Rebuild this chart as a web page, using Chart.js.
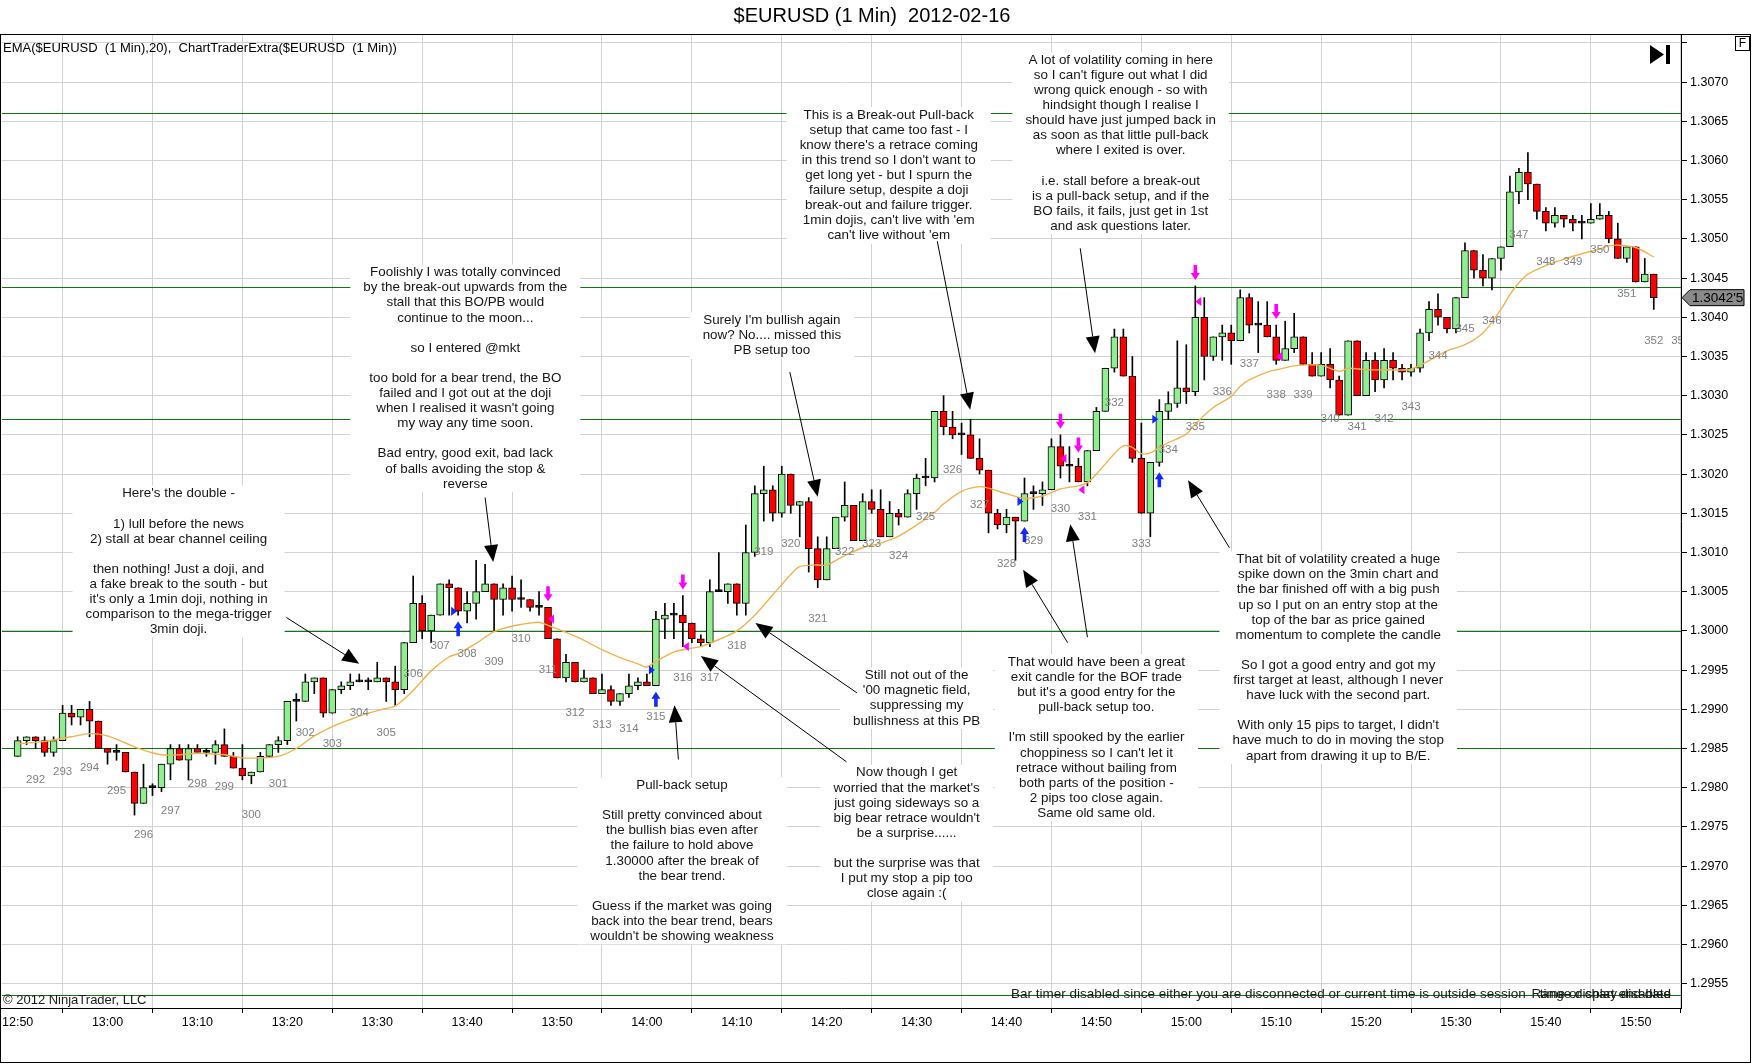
<!DOCTYPE html>
<html>
<head>
<meta charset="utf-8">
<title>$EURUSD (1 Min) 2012-02-16</title>
<script src="https://cdn.jsdelivr.net/npm/chart.js"></script>
<style>
  html, body { margin: 0; padding: 0; background: #fff; }
  #wrap { width: 1752px; height: 1064px; }
</style>
</head>
<body>
<div id="wrap"><canvas id="priceChart" width="1752" height="1064"></canvas></div>
<script>
// $EURUSD 1 min bars, bar 0 = 12:50, one bar per minute

var opens = [
  1.2984, 1.2986, 1.29865, 1.2986, 1.29845, 1.2986, 1.29895, 1.2989, 1.2990, 1.29885,
  1.2985, 1.29845, 1.29845, 1.2982, 1.2978, 1.2980, 1.2980, 1.2983, 1.2985, 1.29835,
  1.2985, 1.29845, 1.29845, 1.29855, 1.2984, 1.29825, 1.29815, 1.2982, 1.2984, 1.29855,
  1.2986, 1.2991, 1.2991, 1.29935, 1.2994, 1.29895, 1.29925, 1.2993, 1.29935, 1.29935,
  1.29935, 1.2994, 1.29935, 1.29925, 1.29985, 1.30035, 1.3000, 1.3002, 1.3006, 1.30055,
  1.30025, 1.30035, 1.3005, 1.3006, 1.3004, 1.30055, 1.3004, 1.3004, 1.3003, 1.3003,
  1.2999, 1.2994, 1.2996, 1.29935, 1.2994, 1.2992, 1.29925, 1.2991, 1.2992, 1.2993,
  1.29935, 1.2993, 1.30015, 1.3002, 1.3002, 1.3001, 1.2999, 1.29985, 1.3005, 1.3005,
  1.3006, 1.30035, 1.3010, 1.30175, 1.3018, 1.3015, 1.3020, 1.3016, 1.30165, 1.30105,
  1.30065, 1.30105, 1.30145, 1.3016, 1.30115, 1.30165, 1.30155, 1.3012, 1.3015, 1.30145,
  1.30175, 1.30195, 1.30195, 1.3028, 1.3026, 1.3025, 1.3025, 1.3022, 1.30205, 1.3015,
  1.30135, 1.30145, 1.3014, 1.30175, 1.30175, 1.3018, 1.30235, 1.3021, 1.3021, 1.3019,
  1.3023, 1.3028, 1.30335, 1.30375, 1.30325, 1.3022, 1.3015, 1.30215, 1.3028, 1.3029,
  1.3031, 1.30305, 1.3040, 1.3035, 1.30375, 1.3038, 1.3037, 1.30425, 1.3039, 1.3039,
  1.30375, 1.30345, 1.3036, 1.30375, 1.3034, 1.30325, 1.3034, 1.3032, 1.30275, 1.3037,
  1.3030, 1.30345, 1.3032, 1.30345, 1.30335, 1.3033, 1.30335, 1.3038, 1.3041, 1.3040,
  1.30385, 1.30425, 1.30485, 1.3046, 1.3045, 1.30475, 1.3049, 1.3056, 1.30585, 1.3057,
  1.30535, 1.3052, 1.3053, 1.30525, 1.3052, 1.3052, 1.30525, 1.3053, 1.3050, 1.30475,
  1.3049, 1.30445, 1.30455
];
var highs = [
  1.29865, 1.29865, 1.29865, 1.29865, 1.29865, 1.29905, 1.29905, 1.2990, 1.2991, 1.29885,
  1.2985, 1.29855, 1.29845, 1.2982, 1.2983, 1.29805, 1.2983, 1.29855, 1.29855, 1.29855,
  1.29855, 1.2985, 1.2986, 1.29875, 1.29845, 1.29855, 1.2982, 1.29845, 1.29855, 1.29865,
  1.2991, 1.2992, 1.29945, 1.2994, 1.2994, 1.29925, 1.29935, 1.29945, 1.29945, 1.2994,
  1.2996, 1.2994, 1.29955, 1.29985, 1.3007, 1.30045, 1.3002, 1.3006, 1.30065, 1.30055,
  1.3005, 1.3009, 1.30085, 1.3006, 1.3006, 1.3007, 1.30065, 1.3004, 1.3005, 1.3003,
  1.2999, 1.2997, 1.2996, 1.2995, 1.2994, 1.29945, 1.2993, 1.2992, 1.29945, 1.2994,
  1.29945, 1.30025, 1.30035, 1.30035, 1.30045, 1.3001, 1.29995, 1.30065, 1.3010, 1.3006,
  1.3006, 1.30135, 1.30185, 1.3021, 1.30185, 1.3021, 1.3020, 1.30165, 1.3017, 1.3012,
  1.3012, 1.30145, 1.3019, 1.3016, 1.30175, 1.3018, 1.3018, 1.30165, 1.30155, 1.3018,
  1.3020, 1.3022, 1.3028, 1.3030, 1.3028, 1.30265, 1.3027, 1.30245, 1.30205, 1.30155,
  1.30155, 1.30145, 1.30195, 1.30185, 1.3019, 1.30245, 1.3025, 1.30235, 1.3022, 1.3023,
  1.30285, 1.30335, 1.30385, 1.30385, 1.3035, 1.30265, 1.30215, 1.30295, 1.30305, 1.3037,
  1.30365, 1.3044, 1.30425, 1.30375, 1.3039, 1.3039, 1.30435, 1.3043, 1.3042, 1.3042,
  1.3039, 1.30395, 1.30405, 1.30375, 1.30355, 1.30355, 1.3036, 1.30325, 1.3037, 1.3037,
  1.30355, 1.30355, 1.3036, 1.30355, 1.3034, 1.3034, 1.30385, 1.3042, 1.3043, 1.3040,
  1.30425, 1.30495, 1.30485, 1.3048, 1.30475, 1.3049, 1.3058, 1.3059, 1.3061, 1.3057,
  1.3054, 1.3054, 1.3053, 1.3053, 1.3053, 1.30545, 1.30545, 1.30535, 1.3052, 1.3049,
  1.3049, 1.30475, 1.30455
];
var lows = [
  1.2984, 1.29855, 1.2985, 1.2984, 1.2984, 1.2986, 1.2988, 1.2988, 1.29865, 1.2985,
  1.2983, 1.29835, 1.2982, 1.29765, 1.2978, 1.2979, 1.29795, 1.2981, 1.29835, 1.2981,
  1.29845, 1.2984, 1.2983, 1.2984, 1.29825, 1.2981, 1.29805, 1.2982, 1.2984, 1.29845,
  1.29855, 1.29885, 1.2991, 1.2992, 1.2989, 1.29895, 1.2992, 1.29925, 1.29935, 1.29925,
  1.29935, 1.2991, 1.29905, 1.2992, 1.29985, 1.2999, 1.29985, 1.3002, 1.3002, 1.3002,
  1.3001, 1.30015, 1.3005, 1.3000, 1.3002, 1.30025, 1.3003, 1.30025, 1.3002, 1.2999,
  1.2994, 1.29935, 1.29935, 1.29935, 1.2992, 1.2992, 1.29905, 1.29905, 1.29915, 1.29925,
  1.2993, 1.2993, 1.2999, 1.2999, 1.2998, 1.29985, 1.2998, 1.2998, 1.3005, 1.30035,
  1.3002, 1.3002, 1.30095, 1.3014, 1.3014, 1.30145, 1.3015, 1.3012, 1.30075, 1.30055,
  1.30065, 1.30105, 1.3014, 1.30115, 1.30115, 1.3015, 1.3012, 1.3012, 1.30135, 1.30145,
  1.30155, 1.30185, 1.3019, 1.3025, 1.30245, 1.30225, 1.3022, 1.3020, 1.30125, 1.3013,
  1.30125, 1.3009, 1.3014, 1.30155, 1.3016, 1.3018, 1.30195, 1.3019, 1.3019, 1.30185,
  1.3023, 1.3028, 1.3033, 1.30325, 1.30215, 1.3015, 1.3012, 1.3021, 1.3027, 1.30285,
  1.3029, 1.3030, 1.3032, 1.30345, 1.30345, 1.3034, 1.3037, 1.3038, 1.30355, 1.30375,
  1.3034, 1.30345, 1.30355, 1.3034, 1.30325, 1.30325, 1.3031, 1.30275, 1.30275, 1.3030,
  1.3030, 1.30305, 1.3031, 1.3032, 1.3032, 1.30325, 1.3033, 1.3037, 1.3039, 1.3038,
  1.3038, 1.30425, 1.3045, 1.3044, 1.30435, 1.3046, 1.3049, 1.30545, 1.3055, 1.30525,
  1.3051, 1.30515, 1.30515, 1.3051, 1.3050, 1.3052, 1.30525, 1.30495, 1.30475, 1.3047,
  1.30445, 1.30445, 1.3041
];
var closes = [
  1.2986, 1.29865, 1.2986, 1.29845, 1.2986, 1.29895, 1.2989, 1.2990, 1.29885, 1.2985,
  1.29845, 1.29845, 1.2982, 1.2978, 1.2980, 1.2980, 1.2983, 1.2985, 1.29835, 1.2985,
  1.29845, 1.29845, 1.29855, 1.2984, 1.29825, 1.29815, 1.2982, 1.2984, 1.29855, 1.2986,
  1.2991, 1.2991, 1.29935, 1.2994, 1.29895, 1.29925, 1.2993, 1.29935, 1.29935, 1.29935,
  1.2994, 1.29935, 1.29925, 1.29985, 1.30035, 1.3000, 1.3002, 1.3006, 1.30055, 1.30025,
  1.30035, 1.3005, 1.3006, 1.3004, 1.30055, 1.3004, 1.3004, 1.3003, 1.3003, 1.2999,
  1.2994, 1.2996, 1.29935, 1.2994, 1.2992, 1.29925, 1.2991, 1.2992, 1.2993, 1.29935,
  1.2993, 1.30015, 1.3002, 1.3002, 1.3001, 1.2999, 1.29985, 1.3005, 1.3005, 1.3006,
  1.30035, 1.3010, 1.30175, 1.3018, 1.3015, 1.3020, 1.3016, 1.30165, 1.30105, 1.30065,
  1.30105, 1.30145, 1.3016, 1.30115, 1.30165, 1.30155, 1.3012, 1.3015, 1.30145, 1.30175,
  1.30195, 1.30195, 1.3028, 1.3026, 1.3025, 1.3025, 1.3022, 1.30205, 1.3015, 1.30135,
  1.30145, 1.3014, 1.30175, 1.30175, 1.3018, 1.30235, 1.3021, 1.3021, 1.3019, 1.3023,
  1.3028, 1.30335, 1.30375, 1.30325, 1.3022, 1.3015, 1.30215, 1.3028, 1.3029, 1.3031,
  1.30305, 1.3040, 1.3035, 1.30375, 1.3038, 1.3037, 1.30425, 1.3039, 1.3039, 1.30375,
  1.30345, 1.3036, 1.30375, 1.3034, 1.30325, 1.3034, 1.3032, 1.30275, 1.3037, 1.3030,
  1.30345, 1.3032, 1.30345, 1.30335, 1.3033, 1.30335, 1.3038, 1.3041, 1.3040, 1.30385,
  1.30425, 1.30485, 1.3046, 1.3045, 1.30475, 1.3049, 1.3056, 1.30585, 1.3057, 1.30535,
  1.3052, 1.3053, 1.30525, 1.3052, 1.3052, 1.30525, 1.3053, 1.3050, 1.30475, 1.3049,
  1.30445, 1.30455, 1.30425
];

// EMA(20) (minute index, value)
var emaMinutes = [0, 3, 6, 8, 10, 12, 14, 16, 18, 20, 23, 25, 27, 29, 31, 33, 35, 37, 39, 41,
  42, 44, 46, 48, 49, 51, 53, 55, 57, 58, 59, 61, 63, 65, 67, 69, 70, 71, 73, 75,
  76, 78, 80, 82, 84, 86, 87, 89, 90, 92, 94, 96, 98, 100, 102, 103, 105, 107, 108, 110,
  112, 114, 116, 118, 119, 120, 121, 122, 123, 124, 125, 126, 127, 128, 130, 131, 133, 135, 136, 137,
  139, 140, 142, 143, 145, 147, 148, 150, 152, 155, 159, 161, 163, 165, 166, 167, 168, 170, 172, 174,
  176, 177, 178, 180, 182];
var emaValues = [1.29856, 1.29859, 1.29865, 1.29869, 1.29866, 1.29857, 1.29848, 1.29842, 1.29842, 1.29844,
  1.29842, 1.29838, 1.29838, 1.2984, 1.2985, 1.29866, 1.29878, 1.29887, 1.29895, 1.29901,
  1.29904, 1.29924, 1.29949, 1.29967, 1.29971, 1.29984, 1.29999, 1.30006, 1.3001, 1.30011,
  1.30007, 1.29998, 1.29988, 1.29976, 1.29966, 1.29958, 1.29954, 1.29961, 1.29973, 1.29978,
  1.2998, 1.29989, 1.3, 1.3002, 1.30046, 1.30072, 1.30082, 1.30084, 1.30084, 1.30096,
  1.30106, 1.30112, 1.30121, 1.30135, 1.30151, 1.30162, 1.30178, 1.30184, 1.30182, 1.30175,
  1.30169, 1.30172, 1.30181, 1.30185, 1.30189, 1.302, 1.30213, 1.30226, 1.30236, 1.30234,
  1.30226, 1.30227, 1.30234, 1.3024, 1.30251, 1.30264, 1.30285, 1.30299, 1.30312, 1.3032,
  1.3033, 1.30333, 1.30338, 1.30339, 1.30339, 1.30331, 1.30335, 1.30333, 1.30333, 1.30334,
  1.30357, 1.30365, 1.3038, 1.3041, 1.30429, 1.30444, 1.30455, 1.30466, 1.30474, 1.30481,
  1.30487, 1.30491, 1.30492, 1.30489, 1.30477];

// axis ticks
var timeTicks = [0, 10, 20, 30, 40, 50, 60, 70, 80, 90, 100, 110, 120, 130, 140, 150, 160, 170, 180];
var timeLabels = ["12:50", "13:00", "13:10", "13:20", "13:30", "13:40", "13:50", "14:00", "14:10", "14:20",
  "14:30", "14:40", "14:50", "15:00", "15:10", "15:20", "15:30", "15:40", "15:50"];
var priceTicks = [1.2955, 1.2960, 1.2965, 1.2970, 1.2975, 1.2980, 1.2985, 1.2990, 1.2995, 1.3000,
  1.3005, 1.3010, 1.3015, 1.3020, 1.3025, 1.3030, 1.3035, 1.3040, 1.3045, 1.3050,
  1.3055, 1.3060, 1.3065, 1.3070, 1.3075];

// drawn horizontal levels
var levelLines = [1.30661, 1.30439, 1.30270, 1.30000, 1.29850, 1.29536];

// trades (ChartTraderExtra markers)
var entryBars = [49, 71, 112, 127];
var entryPrices = [1.30025, 1.2995, 1.30165, 1.3027];
var exitBars = [59, 74, 116, 118, 131, 140];
var exitPrices = [1.30015, 1.2998, 1.3022, 1.3018, 1.3042, 1.3035];
var firstBarNumber = 292;

// text notes, anchored at (minute, price of first line)
var notes = [
  { t: 17.9, price: 1.30175, lines: ["Here's the double -", "", "1) lull before the news", "2) stall at bear channel ceiling", "",
    "then nothing! Just a doji, and", "a fake break to the south - but", "it's only a 1min doji, nothing in",
    "comparison to the mega-trigger", "3min doji."] },
  { t: 49.8, price: 1.30457, lines: ["Foolishly I was totally convinced", "by the break-out upwards from the",
    "stall that this BO/PB would", "continue to the moon...", "", "so I entered @mkt", "",
    "too bold for a bear trend, the BO", "failed and I got out at the doji", "when I realised it wasn't going",
    "my way any time soon.", "", "Bad entry, good exit, bad lack", "of balls avoiding the stop &", "reverse"] },
  { t: 83.9, price: 1.30396, lines: ["Surely I'm bullish again", "now? No.... missed this", "PB setup too"] },
  { t: 96.9, price: 1.30658, lines: ["This is a Break-out Pull-back", "setup that came too fast - I",
    "know there's a retrace coming", "in this trend so I don't want to", "get long yet - but I spurn the",
    "failure setup, despite a doji", "break-out and failure trigger.", "1min dojis, can't live with 'em",
    "can't live without 'em"] },
  { t: 122.7, price: 1.30728, lines: ["A lot of volatility coming in here", "so I can't figure out what I did",
    "wrong quick enough - so with", "hindsight though I realise I", "should have just jumped back in",
    "as soon as that little pull-back", "where I exited is over.", "", "i.e. stall before a break-out",
    "is a pull-back setup, and if the", "BO fails, it fails, just get in 1st", "and ask questions later."] },
  { t: 73.9, price: 1.29803, lines: ["Pull-back setup", "", "Still pretty convinced about", "the bullish bias even after",
    "the failure to hold above", "1.30000 after the break of", "the bear trend.", "",
    "Guess if the market was going", "back into the bear trend, bears", "wouldn't be showing weakness"] },
  { t: 100.0, price: 1.29943, lines: ["Still not out of the", "'00 magnetic field,", "suppressing my", "bullishness at this PB"] },
  { t: 98.9, price: 1.29819, lines: ["Now though I get", "worried that the market's", "just going sideways so a",
    "big bear retrace wouldn't", "be a surprise......", "", "but the surprise was that",
    "I put my stop a pip too", "close again :("] },
  { t: 120.0, price: 1.2996, lines: ["That would have been a great", "exit candle for the BOF trade",
    "but it's a good entry for the", "pull-back setup too.", "", "I'm still spooked by the earlier",
    "choppiness so I can't let it", "retrace without bailing from", "both parts of the position -",
    "2 pips too close again.", "Same old same old."] },
  { t: 146.9, price: 1.30091, lines: ["That bit of volatility created a huge", "spike down on the 3min chart and",
    "the bar finished off with a big push", "up so I put on an entry stop at the",
    "top of the bar as price gained", "momentum to complete the candle", "",
    "So I got a good entry and got my", "first target at least, although I never",
    "have luck with the second part.", "", "With only 15 pips to target, I didn't",
    "have much to do in moving the stop", "apart from drawing it up to B/E."] }
];

var arrows = [
  { from: [29.9, 1.30017], to: [38.0, 1.29958] },
  { from: [52.0, 1.30170], to: [52.9, 1.30088] },
  { from: [85.9, 1.30330], to: [89.0, 1.30171] },
  { from: [102.3, 1.30497], to: [105.96, 1.30282] },
  { from: [118.2, 1.30488], to: [119.85, 1.30354] },
  { from: [73.5, 1.29836], to: [73.07, 1.29905] },
  { from: [93.36, 1.29921], to: [82.07, 1.30010] },
  { from: [92.2, 1.29833], to: [76.0, 1.29968] },
  { from: [116.8, 1.29985], to: [111.85, 1.30078] },
  { from: [119.0, 1.29992], to: [117.1, 1.30136] },
  { from: [134.8, 1.30106], to: [130.2, 1.30192] }
];

var FONT = '"Liberation Sans", Arial, sans-serif';
var NOTE_FONT = "13.4px " + FONT;
var LINE_H = 15.1;

var barIdx = opens.map(function (o, i) { return i; });
var bodyColors = barIdx.map(function (i) {
  if (closes[i] > opens[i]) return "#90ee90";
  if (closes[i] < opens[i]) return "#ff0000";
  return "#000000";
});

function fatArrow(ctx, x, yTip, dir, color) {
  // dir 1 = pointing down, -1 = pointing up
  ctx.fillStyle = color;
  ctx.beginPath();
  ctx.moveTo(x, yTip);
  ctx.lineTo(x + 4.5, yTip - dir * 7);
  ctx.lineTo(x + 1.8, yTip - dir * 7);
  ctx.lineTo(x + 1.8, yTip - dir * 15);
  ctx.lineTo(x - 1.8, yTip - dir * 15);
  ctx.lineTo(x - 1.8, yTip - dir * 7);
  ctx.lineTo(x - 4.5, yTip - dir * 7);
  ctx.closePath();
  ctx.fill();
}

function noteArrow(ctx, x1, y1, x2, y2) {
  var a = Math.atan2(y2 - y1, x2 - x1), len = 17, half = 7;
  var bx = x2 - len * Math.cos(a), by = y2 - len * Math.sin(a);
  ctx.beginPath();
  ctx.moveTo(x1, y1);
  ctx.lineTo(bx, by);
  ctx.stroke();
  ctx.beginPath();
  ctx.moveTo(x2, y2);
  ctx.lineTo(bx + half * Math.sin(a), by - half * Math.cos(a));
  ctx.lineTo(bx - half * Math.sin(a), by + half * Math.cos(a));
  ctx.closePath();
  ctx.fill();
}

var ntPlugin = {
  id: "ntExtras",
  beforeDatasetsDraw: function (chart) {
    var ctx = chart.ctx, area = chart.chartArea, xS = chart.scales.x, yS = chart.scales.y;
    ctx.save();
    ctx.beginPath();
    ctx.rect(area.left, area.top, area.right - area.left, area.bottom - area.top);
    ctx.clip();
    // level lines
    ctx.strokeStyle = "#0b7a0b";
    ctx.lineWidth = 1.2;
    levelLines.forEach(function (p) {
      var yy = Math.round(yS.getPixelForValue(p)) + 0.5;
      ctx.beginPath();
      ctx.moveTo(area.left, yy);
      ctx.lineTo(area.right, yy);
      ctx.stroke();
    });
    // white backgrounds of the notes
    ctx.font = NOTE_FONT;
    ctx.fillStyle = "#ffffff";
    notes.forEach(function (n) {
      var cx = xS.getPixelForValue(n.t), cy = yS.getPixelForValue(n.price);
      var w = 0;
      n.lines.forEach(function (l) { w = Math.max(w, ctx.measureText(l).width); });
      ctx.fillRect(cx - w / 2 - 13, cy - 8, w + 26, (n.lines.length - 1) * LINE_H + 16);
    });
    ctx.restore();
  },
  afterDatasetsDraw: function (chart) {
    var ctx = chart.ctx, area = chart.chartArea, xS = chart.scales.x, yS = chart.scales.y;
    ctx.save();
    ctx.beginPath();
    ctx.rect(area.left, area.top, area.right - area.left, area.bottom - area.top);
    ctx.clip();

    // note text
    ctx.font = NOTE_FONT;
    ctx.fillStyle = "#151515";
    ctx.textAlign = "center";
    ctx.textBaseline = "middle";
    notes.forEach(function (n) {
      var cx = xS.getPixelForValue(n.t), cy = yS.getPixelForValue(n.price);
      n.lines.forEach(function (l, i) { if (l) ctx.fillText(l, cx, cy + i * LINE_H); });
    });

    // note arrows
    ctx.strokeStyle = "#000";
    ctx.fillStyle = "#000";
    ctx.lineWidth = 1;
    arrows.forEach(function (a) {
      noteArrow(ctx, xS.getPixelForValue(a.from[0]), yS.getPixelForValue(a.from[1]),
        xS.getPixelForValue(a.to[0]), yS.getPixelForValue(a.to[1]));
    });

    // 3-min bar numbers
    ctx.font = "11.5px " + FONT;
    ctx.fillStyle = "#808080";
    var last = opens.length - 1;
    for (var k = 0; k * 3 + 2 <= last + 3; k++) {
      var b = k * 3 + 2;
      var lowY = yS.getPixelForValue(lows[Math.min(b, last)]);
      ctx.fillText(String(firstBarNumber + k), xS.getPixelForValue(b), lowY + 31);
    }

    // trade markers
    entryBars.forEach(function (b, i) {
      var x = xS.getPixelForValue(b);
      fatArrow(ctx, x, yS.getPixelForValue(lows[b]) + 6, -1, "#1428ff");
      var py = yS.getPixelForValue(entryPrices[i]);
      ctx.fillStyle = "#1428ff";
      ctx.beginPath();
      ctx.moveTo(x - 1, py);
      ctx.lineTo(x - 7, py - 4.5);
      ctx.lineTo(x - 7, py + 4.5);
      ctx.closePath();
      ctx.fill();
    });
    exitBars.forEach(function (b, i) {
      var x = xS.getPixelForValue(b);
      fatArrow(ctx, x, yS.getPixelForValue(highs[b]) - 6, 1, "#ff00ff");
      var py = yS.getPixelForValue(exitPrices[i]);
      ctx.fillStyle = "#ff00ff";
      ctx.beginPath();
      ctx.moveTo(x, py);
      ctx.lineTo(x + 6, py - 4.5);
      ctx.lineTo(x + 6, py + 4.5);
      ctx.closePath();
      ctx.fill();
    });

    // status texts at the bottom of the panel
    ctx.fillStyle = "#1a1a1a";
    ctx.font = "13px " + FONT;
    ctx.textAlign = "left";
    ctx.fillText("\u00a9 2012 NinjaTrader, LLC", 3, 1000);
    ctx.font = "13.5px " + FONT;
    ctx.fillText("Bar timer disabled since either you are disconnected or current time is outside session", 1011, 994);
    ctx.textAlign = "right";
    ctx.fillText("time or chart end date", 1671, 994);
    ctx.fillText("Range display disabled", 1671, 994);
    ctx.restore();
  },
  afterDraw: function (chart) {
    var ctx = chart.ctx, yS = chart.scales.y;
    ctx.save();
    // frame
    ctx.strokeStyle = "#000";
    ctx.lineWidth = 1;
    ctx.strokeRect(0.5, 34.5, 1750, 1028);

    // title
    ctx.fillStyle = "#000";
    ctx.textBaseline = "middle";
    ctx.textAlign = "center";
    ctx.font = "20px " + FONT;
    ctx.fillText("$EURUSD (1 Min)  2012-02-16", 872, 16);

    // indicator line
    ctx.textAlign = "left";
    ctx.font = "13px " + FONT;
    ctx.fillText("EMA($EURUSD  (1 Min),20),  ChartTraderExtra($EURUSD  (1 Min))", 3, 48);

    // jump-to-end button
    ctx.beginPath();
    ctx.moveTo(1650, 45);
    ctx.lineTo(1664, 54.5);
    ctx.lineTo(1650, 64);
    ctx.closePath();
    ctx.fill();
    ctx.fillRect(1666, 45, 4, 19);

    // F box
    ctx.fillStyle = "#fff";
    ctx.fillRect(1735.5, 36.5, 14, 14);
    ctx.strokeRect(1735.5, 36.5, 14, 14);
    ctx.fillStyle = "#000";
    ctx.textAlign = "center";
    ctx.font = "12px " + FONT;
    ctx.fillText("F", 1742.5, 44);

    // last price tag
    var lastClose = closes[closes.length - 1];
    var py = yS.getPixelForValue(lastClose);
    ctx.beginPath();
    ctx.moveTo(1682, py);
    ctx.lineTo(1690, py - 8);
    ctx.lineTo(1744, py - 8);
    ctx.lineTo(1744, py + 8);
    ctx.lineTo(1690, py + 8);
    ctx.closePath();
    ctx.fillStyle = "#8a8a8a";
    ctx.fill();
    ctx.stroke();
    var s = lastClose.toFixed(5);
    ctx.fillStyle = "#000";
    ctx.textAlign = "left";
    ctx.font = "13.5px " + FONT;
    ctx.fillText(s.slice(0, 6) + "'" + s.slice(6), 1692, py + 0.5);
    ctx.restore();
  }
};

var ctxEl = document.getElementById("priceChart");
var priceChart = new Chart(ctxEl, {
  type: "bar",
  data: {
    datasets: [
      {
        type: "line",
        label: "EMA(20)",
        data: emaMinutes.map(function (m, i) { return { x: m, y: emaValues[i] }; }),
        borderColor: "#f2b24a",
        borderWidth: 1.4,
        pointRadius: 0,
        tension: 0.3,
        order: 0
      },
      {
        label: "Body",
        data: barIdx.map(function (i) { return { x: i, y: [opens[i], closes[i]] }; }),
        backgroundColor: bodyColors,
        borderColor: "#000",
        borderWidth: 1,
        borderSkipped: false,
        barThickness: 7,
        minBarLength: 2,
        grouped: false,
        order: 1
      },
      {
        label: "Wick",
        data: barIdx.map(function (i) { return { x: i, y: [lows[i], highs[i]] }; }),
        backgroundColor: "#000",
        barThickness: 1,
        grouped: false,
        order: 2
      }
    ]
  },
  options: {
    responsive: false,
    devicePixelRatio: 1,
    animation: false,
    events: [],
    layout: { padding: { top: 34, left: 0, right: 0, bottom: 0 }, autoPadding: false },
    plugins: {
      legend: { display: false },
      title: { display: false },
      tooltip: { enabled: false }
    },
    scales: {
      x: {
        type: "linear",
        offset: false,
        min: -1.744,
        max: 185.03,
        afterBuildTicks: function (axis) {
          axis.ticks = timeTicks.map(function (v) { return { value: v }; });
        },
        afterFit: function (axis) { axis.height = 56; },
        grid: { color: "#d2d2d2", tickColor: "#000", tickLength: 5 },
        border: { display: true, color: "#000" },
        ticks: {
          autoSkip: false,
          maxRotation: 0,
          padding: 2,
          color: "#000",
          font: { family: FONT, size: 12.5 },
          callback: function (v, i) { return timeLabels[i]; }
        }
      },
      y: {
        position: "right",
        min: 1.29519,
        max: 1.307613,
        afterBuildTicks: function (axis) {
          axis.ticks = priceTicks.map(function (v) { return { value: v }; });
        },
        afterFit: function (axis) { axis.width = 71; },
        grid: { color: "#d2d2d2", tickColor: "#000", tickLength: 6 },
        border: { display: true, color: "#000" },
        ticks: {
          padding: 3,
          color: "#000",
          font: { family: FONT, size: 12.5 },
          callback: function (v) { return v > 1.3072 ? "" : v.toFixed(4); }
        }
      }
    }
  },
  plugins: [ntPlugin]
});
</script>
</body>
</html>
